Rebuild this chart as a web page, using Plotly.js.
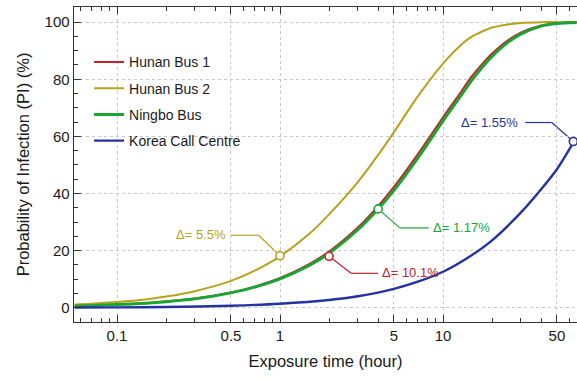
<!DOCTYPE html>
<html>
<head>
<meta charset="utf-8">
<script src="https://cdn.plot.ly/plotly-3.0.1.min.js"></script>
<style>
  html, body { margin: 0; padding: 0; background: #fff; }
  #chart { width: 577px; height: 379px; }
</style>
</head>
<body>
<div id="chart"></div>
<script>
// Exposure time (hours) at which each curve is sampled
const timeHours = [0.055, 0.07, 0.1, 0.15, 0.2, 0.3, 0.5, 0.7, 1, 1.5, 2, 3, 4, 5, 7, 10, 12.5, 15, 17.5, 20, 25, 30, 40, 50, 66];
const timeKorea = [0.055, 0.1, 0.2, 0.5, 1, 2, 3, 5, 7, 10, 15, 20, 30, 40, 50, 63];

// Probability of infection (%) for each outbreak
const hunanBus1 = [0.6, 0.8, 1.1, 1.6, 2.2, 3.2, 5.3, 7.4, 10.4, 15.2, 19.7, 28.1, 35.6, 42.3, 53.7, 66.7, 74.5, 81.0, 85.5, 89.0, 93.6, 96.3, 98.8, 99.6, 100];
const hunanBus2 = [1.1, 1.4, 2.0, 2.9, 3.9, 5.8, 9.4, 13.0, 18.0, 25.7, 32.7, 44.0, 53.5, 61.5, 74.0, 85.5, 91.3, 94.9, 96.8, 98.1, 99.2, 99.7, 100, 100, 100];
const ningboBus = [0.6, 0.7, 1.1, 1.6, 2.1, 3.1, 5.2, 7.2, 10.1, 14.7, 19.1, 27.3, 34.6, 41.1, 52.4, 65.4, 73.2, 79.6, 84.4, 88.0, 92.9, 95.8, 98.6, 99.5, 99.9];
const koreaCall = [0.07, 0.13, 0.27, 0.7, 1.4, 2.7, 4.0, 6.6, 9.1, 12.6, 18.4, 23.6, 33.3, 41.5, 48.5, 57.8];

// Observed attack rates and the gap to each fitted curve
const seriesNames = ['Hunan Bus 1', 'Hunan Bus 2', 'Ningbo Bus', 'Korea Call Centre'];
const observedTime = [2, 1, 4, 63];
const observedRate = [18, 18.2, 34.6, 58.2];
const deltaLabels = ['Δ= 10.1%', 'Δ= 5.5%', 'Δ= 1.17%', 'Δ= 1.55%'];

// Axis ticks
const xTickVals = [0.1, 0.5, 1, 5, 10, 50];
const xTickText = ['0.1', '0.5', '1', '5', '10', '50'];
const xMinorVals = [0.06, 0.07, 0.08, 0.09, 0.2, 0.3, 0.4, 0.6, 0.7, 0.8, 0.9, 2, 3, 4, 6, 7, 8, 9, 20, 30, 40, 60];
const yTickVals = [0, 20, 40, 60, 80, 100];

const xLogRange = [-1.264, 1.822];

const colors = ['#c8202a', '#b8a21c', '#1aa532', '#2433a3'];
const widths = [2, 2, 3, 2.4];
const seriesY = [hunanBus1, hunanBus2, ningboBus, koreaCall];
const seriesX = [timeHours, timeHours, timeHours, timeKorea];

// Draw order: yellow, red, green, blue (green sits over red)
const drawOrder = [1, 0, 2, 3];
const traces = drawOrder.map(i => ({
  type: 'scatter',
  mode: 'lines',
  name: seriesNames[i],
  x: seriesX[i],
  y: seriesY[i],
  line: { color: colors[i], width: widths[i], shape: 'spline', smoothing: 0.8 },
  legendrank: i + 1,
  legendgroup: 'g' + i,
  hoverinfo: 'skip'
}));

// Observed points as open circles
seriesNames.forEach((n, i) => {
  traces.push({
    type: 'scatter',
    mode: 'markers',
    x: [observedTime[i]],
    y: [observedRate[i]],
    showlegend: false,
    marker: { symbol: 'circle', size: 8, color: '#ffffff', line: { color: colors[i], width: 1.6 } },
    hoverinfo: 'skip'
  });
});

// Leader lines: diagonal leg then horizontal leg, in pixel offsets from the point.
// They are anchored on a hidden linear axis that carries log10(time), so that
// offsets to the left are allowed.
const legDiag = [[22, -17], [-21.5, 20.5], [21.6, -19], [-21.6, 19]];
const legFlat = [27, -27.5, 29, -26.5];
const labelShift = [[51, -16], [-52, 21], [53, -19], [-53, 19]];

const shapes = [];
const annotations = [];
seriesNames.forEach((n, i) => {
  const [dx, dy] = legDiag[i];
  const common = {
    type: 'line', xref: 'x2', yref: 'y',
    xsizemode: 'pixel', ysizemode: 'pixel',
    xanchor: Math.log10(observedTime[i]), yanchor: observedRate[i],
    line: { color: colors[i], width: 1.2 },
    layer: 'below'
  };
  shapes.push(Object.assign({}, common, { x0: 0, y0: 0, x1: dx, y1: dy }));
  shapes.push(Object.assign({}, common, { x0: dx, y0: dy, x1: dx + legFlat[i], y1: dy }));
  annotations.push({
    xref: 'x', yref: 'y',
    x: Math.log10(observedTime[i]), y: observedRate[i],
    xshift: labelShift[i][0], yshift: labelShift[i][1],
    xanchor: labelShift[i][0] > 0 ? 'left' : 'right',
    yanchor: 'middle',
    text: deltaLabels[i],
    showarrow: false,
    font: { family: 'Liberation Sans, Arial, sans-serif', size: 13, color: colors[i] }
  });
});

const axisFont = { family: 'Liberation Sans, Arial, sans-serif', size: 15, color: '#1a1a1a' };

const layout = {
  width: 577,
  height: 379,
  margin: { l: 74, r: 0, t: 7, b: 57 },
  paper_bgcolor: '#ffffff',
  plot_bgcolor: '#ffffff',
  font: { family: 'Liberation Sans, Arial, sans-serif', color: '#1a1a1a' },
  showlegend: true,
  legend: {
    x: 0.03, y: 0.875, xanchor: 'left', yanchor: 'top',
    bgcolor: 'rgba(0,0,0,0)',
    font: { family: 'Liberation Sans, Arial, sans-serif', size: 14, color: '#1a1a1a' },
    tracegroupgap: 5,
    itemclick: false
  },
  xaxis: {
    type: 'log',
    range: xLogRange,
    tickmode: 'array',
    tickvals: xTickVals,
    ticktext: xTickText,
    ticks: 'inside',
    ticklen: 7,
    tickwidth: 1,
    tickcolor: '#333',
    minor: { tickmode: 'array', tickvals: xMinorVals, ticks: 'inside', ticklen: 4, tickcolor: '#333', showgrid: false },
    showline: true,
    linecolor: '#333',
    linewidth: 1.4,
    mirror: 'allticks',
    showgrid: true,
    gridcolor: '#c8c8c8',
    griddash: 'dot',
    gridwidth: 1,
    zeroline: false,
    tickfont: axisFont,
    title: { text: 'Exposure time (hour)', font: { family: 'Liberation Sans, Arial, sans-serif', size: 16.5, color: '#1a1a1a' }, standoff: 12 }
  },
  xaxis2: {
    type: 'linear',
    overlaying: 'x',
    range: xLogRange,
    visible: false,
    fixedrange: true
  },
  yaxis: {
    range: [-5, 105.3],
    tickmode: 'array',
    tickvals: yTickVals,
    ticks: 'inside',
    ticklen: 7,
    tickwidth: 1,
    tickcolor: '#333',
    minor: { dtick: 5, tick0: 0, ticks: 'inside', ticklen: 4, tickcolor: '#333', showgrid: false },
    showline: true,
    linecolor: '#333',
    linewidth: 1.4,
    showgrid: true,
    gridcolor: '#c8c8c8',
    griddash: 'dot',
    gridwidth: 1,
    zeroline: false,
    tickfont: axisFont,
    title: { text: 'Probability of Infection (PI) (%)', font: { family: 'Liberation Sans, Arial, sans-serif', size: 16.5, color: '#1a1a1a' }, standoff: 10 }
  },
  shapes: shapes,
  annotations: annotations
};

Plotly.newPlot('chart', traces, layout, { displayModeBar: false, staticPlot: true });
</script>
</body>
</html>
